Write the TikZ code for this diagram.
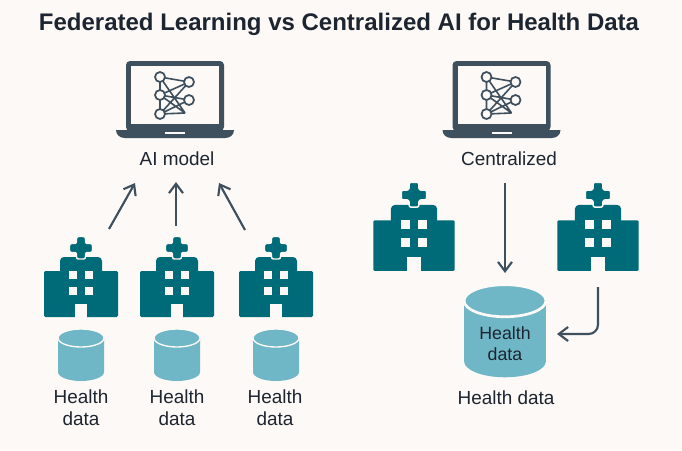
\documentclass[tikz,border=0pt]{standalone}
\usepackage{fontspec}
\setmainfont{Liberation Sans}
\usetikzlibrary{arrows.meta}

\definecolor{pagecolor}{HTML}{FDF9F6}
\definecolor{tealdark}{HTML}{006B78}
\definecolor{tealsoft}{HTML}{6FB7C6}
\definecolor{slate}{HTML}{3E4F5E}
\definecolor{inkdark}{HTML}{1C2530}

\newcommand\labelsize{\fontsize{14.2}{16.5}\selectfont}
\newcommand\innersize{\fontsize{13.3}{15.7}\selectfont}

\tikzset{
  flow/.style={draw=slate,line width=1.6pt,-{Straight Barb[length=7pt,width=10.5pt,line width=1.6pt]}},
  lbl/.style={text=inkdark,align=center,font=\labelsize},
  pics/hospital/.style={code={
    \fill[tealdark,rounded corners=1pt] (-37,23) rectangle (37,69);
    \fill[tealdark,rounded corners=3pt] (-21,9) rectangle (21,30);
    \filldraw[tealdark,draw=pagecolor,line width=1.1pt,rounded corners=1.5pt,fill=tealdark]
      (-4.5,-11.5) -- (4.5,-11.5) -- (4.5,-4.5) -- (11.5,-4.5) -- (11.5,4.5) -- (4.5,4.5)
      -- (4.5,11) -- (-4.5,11) -- (-4.5,4.5) -- (-11.5,4.5) -- (-11.5,-4.5) -- (-4.5,-4.5) -- cycle;
    \fill[pagecolor] (-12,23) rectangle (-4,31);
    \fill[pagecolor] (4,23) rectangle (12,31);
    \fill[pagecolor] (-12,39) rectangle (-4,47);
    \fill[pagecolor] (4,39) rectangle (12,47);
    \fill[pagecolor] (-6,56) rectangle (6,70);
  }},
  pics/database/.style={code={
    \fill[tealsoft] (-23,-17) -- (-23,17) arc[start angle=180,end angle=0,x radius=23,y radius=9]
      -- (23,-17) -- cycle;
    \draw[pagecolor,fill=tealsoft] (-23,-17) arc[start angle=180,end angle=-180,x radius=23,y radius=9];
  }},
  pics/laptop/.style={code={
    \fill[slate,rounded corners=3pt] (-49,-38) rectangle (49,32);
    \fill[pagecolor] (-44,-33) rectangle (44,25);
    \fill[slate] (-59,31) -- (59,31) .. controls (59,36) and (55,39) .. (50,39)
      -- (-50,39) .. controls (-55,39) and (-59,36) .. (-59,31) -- cycle;
    \fill[pagecolor] (-10,32.5) rectangle (10,35);
    \coordinate (-a) at (-15,-22);
    \coordinate (-b) at (-15,-4);
    \coordinate (-c) at (-15,15);
    \coordinate (-d) at (14,-17);
    \coordinate (-e) at (14,1);
    \coordinate (-f) at (10,14);
    \draw[slate,line width=1.2pt]
      (-a) -- (-b) -- (-c)
      (-a) -- (-d) (-a) -- (-f)
      (-b) -- (-d) (-b) -- (-e) (-b) -- (-f)
      (-c) -- (-d) (-c) -- (-e) (-c) -- (-f);
    \filldraw[draw=slate,fill=pagecolor,line width=1.3pt] (-a) circle[radius=5];
    \filldraw[draw=slate,fill=pagecolor,line width=1.3pt] (-b) circle[radius=5];
    \filldraw[draw=slate,fill=pagecolor,line width=1.3pt] (-c) circle[radius=5];
    \filldraw[draw=slate,fill=pagecolor,line width=1.3pt] (-d) circle[radius=5];
    \filldraw[draw=slate,fill=pagecolor,line width=1.3pt] (-e) circle[radius=5];
  }},
}

\begin{document}
\begin{tikzpicture}[x=0.75pt,y=-0.75pt]
    \fill[pagecolor] (0,0) rectangle (682,450);
    \useasboundingbox (0,0) rectangle (682,450);

    \node (title) at (339,24) {\fontsize{18}{20}\selectfont\bfseries\color{inkdark}Federated Learning vs Centralized AI for Health Data};

    % left side
    \pic (laptopleft) at (175,99) {laptop};
    \node[lbl] (model) at (177,159) {AI model};

    \pic (hospa) at (81,248) {hospital};
    \pic (hospb) at (177,248) {hospital};
    \pic (hospc) at (276,248) {hospital};

    \pic[line width=1pt] (dba) at (81,355) {database};
    \pic[line width=1pt] (dbb) at (177,355) {database};
    \pic[line width=1pt] (dbc) at (276,355) {database};

    \node[lbl] (dataa) at (81,408) {Health\\data};
    \node[lbl] (datab) at (177,408) {Health\\data};
    \node[lbl] (datac) at (275,408) {Health\\data};

    \coordinate (froma) at (109,229);
    \coordinate (fromb) at (176,226);
    \coordinate (fromc) at (245,230);
    \coordinate (toa) at (135,183);
    \coordinate (tob) at (176,182);
    \coordinate (toc) at (219,183);
    \draw[flow] (froma) -- (toa);
    \draw[flow] (fromb) -- (tob);
    \draw[flow] (fromc) -- (toc);

    % right side
    \pic (laptopright) at (501.5,99) {laptop};
    \node[lbl] (central) at (509,159) {Centralized};

    \pic[scale=1.1] (hospd) at (414,195) {hospital};
    \pic[scale=1.1] (hospe) at (598,195) {hospital};

    \pic[scale=1.78,line width=2pt] (dbd) at (505,331) {database};
    \node[lbl,font=\innersize] (inner) at (505,344) {Health\\data};
    \node[lbl] (datad) at (506,398) {Health data};

    \coordinate (fromcentral) at (505,183);
    \coordinate (todb) at (505,273);
    \coordinate (fromhosp) at (598,287);
    \coordinate (tocyl) at (557,334);
    \draw[flow] (fromcentral) -- (todb);
    \draw[flow,rounded corners=7pt] (fromhosp) |- (tocyl);
\end{tikzpicture}
\end{document}
